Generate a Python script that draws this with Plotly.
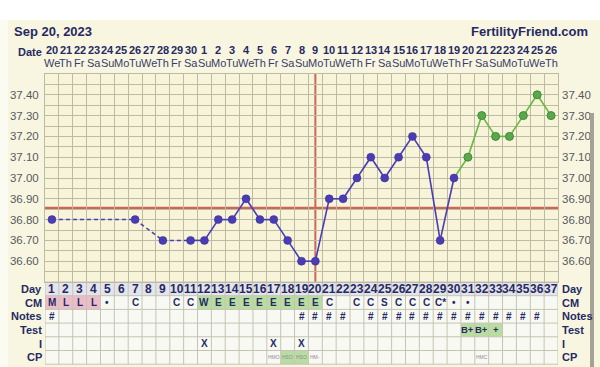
import plotly.graph_objects as go

W, H = 600, 367

days = list(range(1, 38))
dates = ["20","21","22","23","24","25","26","27","28","29","30","1","2","3","4","5","6","7","8","9",
         "10","11","12","13","14","15","16","17","18","19","20","21","22","23","24","25","26"]
weekdays = ["We","Th","Fr","Sa","Su","Mo","Tu"] * 6
weekdays = weekdays[:37]
temps = [36.80, None, None, None, None, None, 36.80, None, 36.70, None, 36.70, 36.70, 36.80, 36.80,
         36.90, 36.80, 36.80, 36.70, 36.60, 36.60, 36.90, 36.90, 37.00, 37.10, 37.00, 37.10, 37.20,
         37.10, 36.70, 37.00, 37.10, 37.30, 37.20, 37.20, 37.30, 37.40, 37.30]
green_start = 30  # green line from day 30 onward, green markers from 31
coverline = 36.855
ovulation_day = 20
cm = ["M","L","L","L","•","","C","","","C","C","W","E","E","E","E","E","E","E","E","C","","C","C","S",
      "C","C","C","C*","•","•","","","","","",""]
cm_color = ["pink"]*4 + [""]*7 + ["green"]*9 + [""]*17
notes = ["#"] + [""]*17 + ["#","#","#","#",""] + ["#"]*13 + [""]
tests = [""]*30 + ["B+","B+","+","","","",""]
test_color = [""]*30 + ["green"]*3 + [""]*4
intercourse = [""]*11 + ["X"] + [""]*4 + ["X","","X"] + [""]*18
cp = [""]*16 + ["HMO","HSO","HSO","HM-"] + [""]*11 + ["HMC"] + [""]*5
cp_color = [""]*17 + ["green","green"] + [""]*18
ytick_vals = [36.6, 36.7, 36.8, 36.9, 37.0, 37.1, 37.2, 37.3, 37.4]
row_labels = ["Day", "CM", "Notes", "Test", "I", "CP"]

NAVY = "#262a63"
BG = "#f8f6e0"
PLOT_BG = "#f7f4da"
GRID = "#bdbca2"
BLUE = "#4a3cb2"
GREEN_LINE = "#66b83e"
GREEN_MK = "#5ba84b"
RED = "#cc6655"
PINK = "#ecbccb"
CELLGREEN = "#b9dda0"
DAYROW = "#e4e4ec"
CELLBG = "#f9f9f3"
FONT = "Liberation Sans"

def py(p):
    return 1 - p / H

PLOT_L, PLOT_R, PLOT_T, PLOT_B = 45, 558, 74, 282

fig = go.Figure()

def seg_lists(start, end):
    xs, ys = [], []
    for d in range(start, end):
        t0, t1 = temps[d-1], temps[d]
        if t0 is not None and t1 is not None:
            xs += [d, d+1, None]; ys += [t0, t1, None]
    return xs, ys

dx, dy = [], []
known = [d for d in days if temps[d-1] is not None]
for a, b in zip(known[:-1], known[1:]):
    if b - a > 1:
        dx += [a, b, None]; dy += [temps[a-1], temps[b-1], None]
fig.add_trace(go.Scatter(x=dx, y=dy, mode="lines", line=dict(color=BLUE, width=1.5, dash="4px,3px"),
                         hoverinfo="skip", showlegend=False))
sx, sy = seg_lists(1, green_start)
fig.add_trace(go.Scatter(x=sx, y=sy, mode="lines", line=dict(color=BLUE, width=1.6),
                         hoverinfo="skip", showlegend=False))
gx, gy = seg_lists(green_start, 37)
fig.add_trace(go.Scatter(x=gx, y=gy, mode="lines", line=dict(color=GREEN_LINE, width=1.6),
                         hoverinfo="skip", showlegend=False))
bx = [d for d in days if temps[d-1] is not None and d <= green_start]
fig.add_trace(go.Scatter(x=bx, y=[temps[d-1] for d in bx], mode="markers",
                         marker=dict(color=BLUE, size=8, line=dict(color="#3a2e9a", width=0.5)),
                         hoverinfo="skip", showlegend=False))
gxm = [d for d in days if temps[d-1] is not None and d > green_start]
fig.add_trace(go.Scatter(x=gxm, y=[temps[d-1] for d in gxm], mode="markers",
                         marker=dict(color=GREEN_MK, size=8, line=dict(color="#3e8a3c", width=1)),
                         hoverinfo="skip", showlegend=False))
fig.add_trace(go.Scatter(x=[None], y=[None], yaxis="y2", showlegend=False))

shapes = []
shapes.append(dict(type="rect", xref="paper", yref="paper", x0=0, x1=1, y0=py(20), y1=1,
                   fillcolor="white", line_width=0, layer="below"))
shapes.append(dict(type="rect", xref="paper", yref="paper", x0=0, x1=8/W, y0=0, y1=py(20),
                   fillcolor="#fbfbf1", line_width=0, layer="below"))
shapes.append(dict(type="line", xref="x", yref="y", x0=0.5, x1=37.5, y0=coverline, y1=coverline,
                   line=dict(color=RED, width=3), layer="below"))
shapes.append(dict(type="line", xref="x", yref="paper", x0=ovulation_day, x1=ovulation_day,
                   y0=py(PLOT_B), y1=py(PLOT_T), line=dict(color=RED, width=2), layer="below"))

row_h = 13.7
row_tops = [PLOT_B + i*row_h for i in range(7)]
for r in range(6):
    y0, y1 = py(row_tops[r+1]), py(row_tops[r])
    shapes.append(dict(type="rect", xref="x", yref="paper", x0=0.5, x1=37.5, y0=y0, y1=y1,
                       fillcolor=DAYROW if r == 0 else CELLBG, line_width=0, layer="below"))
def cell(r, d, color):
    shapes.append(dict(type="rect", xref="x", yref="paper", x0=d-0.5, x1=d+0.5,
                       y0=py(row_tops[r+1]), y1=py(row_tops[r]), fillcolor=color, line_width=0,
                       layer="below"))
for i, c in enumerate(cm_color):
    if c:
        cell(1, i+1, PINK if c == "pink" else CELLGREEN)
for i, c in enumerate(test_color):
    if c:
        cell(3, i+1, CELLGREEN)
for i, c in enumerate(cp_color):
    if c:
        cell(5, i+1, CELLGREEN)
for k in range(38):
    shapes.append(dict(type="line", xref="x", yref="paper", x0=k+0.5, x1=k+0.5,
                       y0=py(row_tops[-1]), y1=py(row_tops[0]), line=dict(color="#c4c4b4", width=1),
                       layer="below"))
for yy in row_tops:
    shapes.append(dict(type="line", xref="x", yref="paper", x0=0.5, x1=37.5, y0=py(yy), y1=py(yy),
                       line=dict(color="#c4c4b4", width=1), layer="below"))
shapes.append(dict(type="rect", xref="paper", yref="paper", x0=590/W, x1=594/W, y0=0, y1=py(113),
                   fillcolor="#a3a294", line_width=0))

ann = []
def txt(x, y, s, size=11, bold=True, color=NAVY, xref="x", xanchor="center", family=FONT):
    ann.append(dict(x=x, y=py(y), xref=xref, yref="paper", text=(f"<b>{s}</b>" if bold else s),
                    showarrow=False, xanchor=xanchor, yanchor="middle",
                    font=dict(size=size, color=color, family=family)))

txt(12/W, 32, "Sep 20, 2023", size=13, xref="paper", xanchor="left")
txt(590/W, 32, "FertilityFriend.com", size=13, xref="paper", xanchor="right")
txt(44/W, 52, "Date", size=11, xref="paper", xanchor="right")
for d in days:
    txt(d, 50, dates[d-1], size=11)
    txt(d, 63, weekdays[d-1], size=11, bold=False, color="#3a3d6a")
centers = [(row_tops[i] + row_tops[i+1]) / 2 for i in range(6)]
for r, lab in enumerate(row_labels):
    txt(44/W, centers[r], lab, size=11, xref="paper", xanchor="right")
    txt(560/W, centers[r], lab, size=11, xref="paper", xanchor="left")
for d in days:
    txt(d, centers[0], str(d), size=12)
    if cm[d-1]:
        txt(d, centers[1], cm[d-1], size=10)
    if notes[d-1]:
        txt(d, centers[2], notes[d-1], size=10)
    if tests[d-1]:
        txt(d, centers[3], tests[d-1], size=9.5)
    if intercourse[d-1]:
        txt(d, centers[4], intercourse[d-1], size=10)
    if cp[d-1]:
        txt(d, centers[5], cp[d-1], size=5, bold=False, color="#8a8a9a")

tickfont = dict(size=11.5, color="#555a60", family="Liberation Sans")
xdom = [PLOT_L/W, PLOT_R/W]
ydom = [py(PLOT_B), py(PLOT_T)]
fig.update_layout(
    width=W, height=H, margin=dict(l=0, r=0, t=0, b=0),
    paper_bgcolor=BG, plot_bgcolor=PLOT_BG,
    shapes=shapes, annotations=ann, hovermode=False,
    xaxis=dict(domain=xdom, range=[0.5, 37.5], tickvals=[k+0.5 for k in range(38)],
               showticklabels=False, showgrid=True, gridcolor=GRID, gridwidth=1, zeroline=False,
               showline=True, linecolor=GRID, mirror=True, fixedrange=True),
    yaxis=dict(domain=ydom, range=[36.5, 37.5], tickvals=ytick_vals,
               ticktext=[f"{v:.2f}" for v in ytick_vals], showgrid=True, gridcolor=GRID,
               zeroline=False, tickfont=tickfont,
               minor=dict(dtick=0.05, showgrid=True, gridcolor=GRID, tick0=36.5),
               showline=True, linecolor=GRID, mirror=True, ticks="", ticklabelstandoff=3,
               fixedrange=True),
    yaxis2=dict(domain=ydom, range=[36.5, 37.5], overlaying="y", side="right", tickvals=ytick_vals,
                ticktext=[f"{v:.2f}" for v in ytick_vals], showgrid=False, zeroline=False,
                tickfont=tickfont, ticks="", ticklabelstandoff=3, fixedrange=True),
)
fig.write_html("out.html", config={"displayModeBar": False},
               post_script="document.body.style.margin='0px';document.body.style.overflow='hidden';")
